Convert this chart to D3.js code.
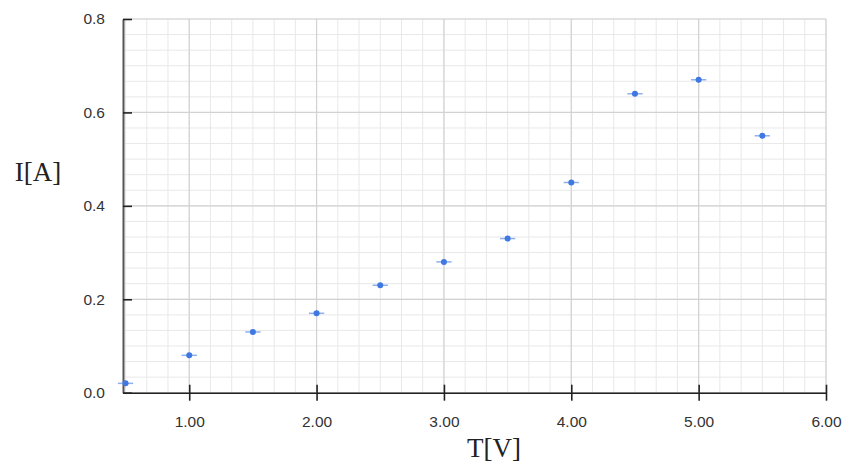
<!DOCTYPE html>
<html><head><meta charset="utf-8">
<script src="https://cdn.jsdelivr.net/npm/d3@7"></script>
<style>body{margin:0;background:#fff}svg{display:block}</style>
</head><body><svg id="c" width="845" height="464"></svg>
<script>
const xValues = [0.5, 1.0, 1.5, 2.0, 2.5, 3.0, 3.5, 4.0, 4.5, 5.0, 5.5];
const yValues = [0.02, 0.08, 0.13, 0.17, 0.23, 0.28, 0.33, 0.45, 0.64, 0.67, 0.55];
const xErrors = [0.06, 0.06, 0.06, 0.06, 0.06, 0.06, 0.06, 0.06, 0.06, 0.06, 0.06];
const xTicks = [1, 2, 3, 4, 5, 6];
const yTicks = [0, 0.2, 0.4, 0.6, 0.8];
const xTitle = "T[V]";
const yTitle = "I[A]";

const svg = d3.select("#c");
const x = d3.scaleLinear().domain([0.48, 6.0]).range([123, 826]);
const y = d3.scaleLinear().domain([0, 0.8]).range([392.7, 19]);

// minor grid
const g = svg.append("g");
const xMinor = d3.range(0, 34).map(k => 0.5 + k / 6).filter(v => v <= 6.0001);
const yMinor = d3.range(0, 25).map(k => k * 0.2 / 6);
g.selectAll(".vx").data(xMinor).join("line")
  .attr("x1", d => x(d)).attr("x2", d => x(d)).attr("y1", y(0)).attr("y2", y(0.8))
  .attr("stroke", "#e8e8e8").attr("stroke-width", 1);
g.selectAll(".hy").data(yMinor).join("line")
  .attr("x1", x.range()[0]).attr("x2", 826).attr("y1", d => y(d)).attr("y2", d => y(d))
  .attr("stroke", "#e8e8e8").attr("stroke-width", 1);
// major grid
g.selectAll(".vX").data(xTicks).join("line")
  .attr("x1", d => x(d)).attr("x2", d => x(d)).attr("y1", y(0)).attr("y2", y(0.8))
  .attr("stroke", "#d2d2d2").attr("stroke-width", 1.2);
g.selectAll(".hY").data(yTicks).join("line")
  .attr("x1", x.range()[0]).attr("x2", 826).attr("y1", d => y(d)).attr("y2", d => y(d))
  .attr("stroke", "#d2d2d2").attr("stroke-width", 1.2);

// axes
const xAxis = svg.append("g").attr("transform", `translate(0,${y(0)})`)
  .call(d3.axisBottom(x).tickValues(xTicks).tickFormat(d3.format(".2f")).tickSizeInner(8).tickSizeOuter(0).tickPadding(15));
xAxis.select(".domain").attr("stroke", "#222").attr("stroke-width", 1.6);
xAxis.selectAll(".tick line").attr("y1", -8).attr("stroke", "#222").attr("stroke-width", 1.6);
xAxis.selectAll("text").attr("font-family", "Liberation Sans, Arial, sans-serif").attr("font-size", 15.5).attr("fill", "#333");

const yAxis = svg.append("g").attr("transform", `translate(${x.range()[0]},0)`)
  .call(d3.axisLeft(y).tickValues(yTicks).tickFormat(d3.format(".1f")).tickSizeInner(10).tickSizeOuter(0).tickPadding(8));
yAxis.select(".domain").attr("stroke", "#555").attr("stroke-width", 2);
yAxis.selectAll(".tick line").attr("x2", 9).attr("stroke", "#222").attr("stroke-width", 1.6);
yAxis.selectAll("text").attr("font-family", "Liberation Sans, Arial, sans-serif").attr("font-size", 15.5).attr("fill", "#333");

// data
const pts = xValues.map((v, i) => ({x: v, y: yValues[i], e: xErrors[i]}));
svg.append("g").selectAll("line").data(pts).join("line")
  .attr("x1", d => x(d.x - d.e)).attr("x2", d => x(d.x + d.e))
  .attr("y1", d => y(d.y)).attr("y2", d => y(d.y))
  .attr("stroke", "#8fb0ee").attr("stroke-width", 1.5);
svg.append("g").selectAll("circle").data(pts).join("circle")
  .attr("cx", d => x(d.x)).attr("cy", d => y(d.y)).attr("r", 3)
  .attr("fill", "#3f78e0");

// titles
svg.append("text").attr("x", 494).attr("y", 457).attr("text-anchor", "middle")
  .attr("font-family", "Liberation Serif, Times New Roman, serif").attr("font-size", 27).attr("fill", "#222").text(xTitle);
svg.append("text").attr("x", 38).attr("y", 181).attr("text-anchor", "middle")
  .attr("font-family", "Liberation Serif, Times New Roman, serif").attr("font-size", 27).attr("fill", "#222").text(yTitle);
</script></body></html>
